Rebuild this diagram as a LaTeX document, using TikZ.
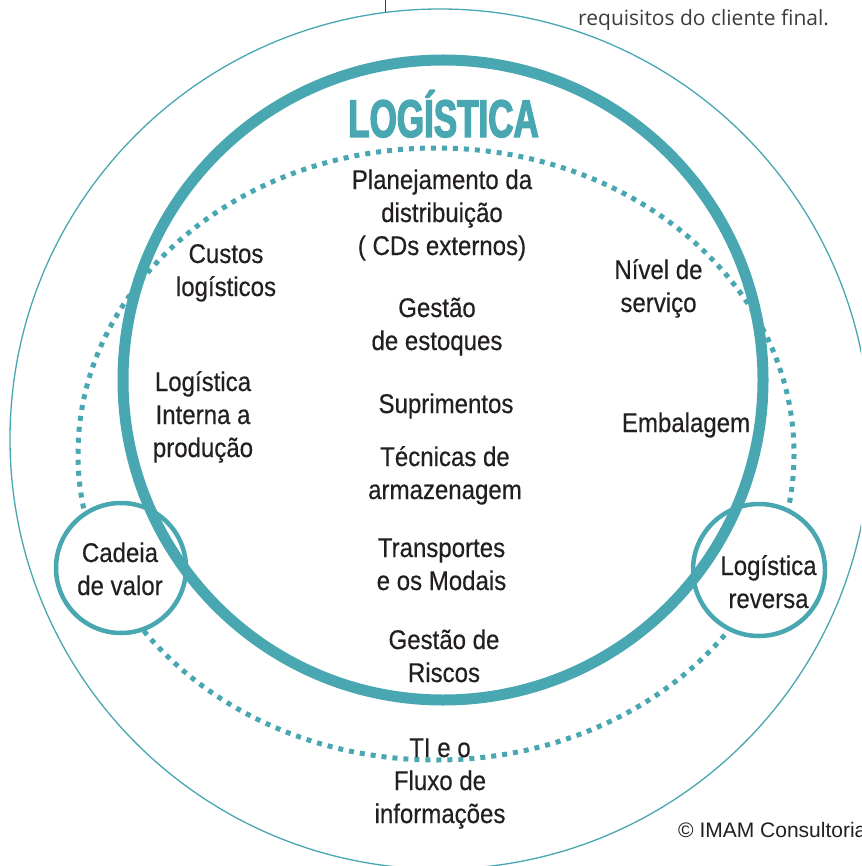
\documentclass[tikz,border=0pt]{standalone}
\usepackage{fontspec}
\setmainfont{Liberation Sans}
\newfontfamily\bodyfont[FakeStretch=0.89,FakeBold=0.4]{Liberation Sans}
\newfontfamily\titlefont[FakeStretch=0.66,FakeBold=2.5]{Liberation Sans Bold}
\newfontfamily\notefont{Open Sans}
\definecolor{teal1}{RGB}{72,167,176}
\definecolor{ink}{RGB}{35,31,32}
\definecolor{notegray}{RGB}{60,60,60}
\begin{document}
\begin{tikzpicture}[x=1pt,y=-1pt,
  lbl/.style={font=\bodyfont\fontsize{27}{33}\selectfont, text=ink, align=center, anchor=base, inner sep=0pt},
  thinring/.style={draw=teal1, line width=1.3pt},
  bigring/.style={draw=teal1, line width=11pt},
  dotring/.style={draw=teal1, line width=5pt, dash pattern=on 5pt off 6pt},
  smallring/.style={draw=teal1, line width=4.5pt, fill=white}]
\path[use as bounding box, clip] (0,0) rectangle (861,866);
\fill[white] (0,0) rectangle (861,866);
% rings
\draw[thinring] (440,439) circle[radius=430];
\draw[dotring] (436,454) ellipse[x radius=358, y radius=306];
\draw[smallring] (121,568) circle[radius=65];
\draw[smallring] (759,570) circle[radius=66];
\draw[bigring] (443,380) circle[radius=320];
% leader line at top
\coordinate (lt) at (385,0);
\coordinate (lb) at (385,12);
\draw[notegray, line width=1pt] (lt) -- (lb);
\node[font=\notefont\fontsize{21}{24}\selectfont, text=notegray, anchor=base west, inner sep=0pt] (req) at (578,26) {requisitos do cliente final.};
% title
\node[font=\titlefont\fontsize{53}{60}\selectfont, text=teal1, anchor=base, inner sep=0pt] (title) at (443.5,137) {LOGÍSTICA};
% labels (anchor = baseline of the last line)
\node[lbl] (plan) at (442,255) {Planejamento da\\distribuição\\( CDs externos)};
\node[lbl] (gest) at (437,350) {Gestão\\de estoques};
\node[lbl] (supr) at (446,413) {Suprimentos};
\node[lbl] (tecn) at (445,499) {Técnicas de\\armazenagem};
\node[lbl] (trans) at (441.5,590) {Transportes\\e os Modais};
\node[lbl] (risc) at (444,682) {Gestão de\\Riscos};
\node[lbl] (cust) at (226,296) {Custos\\logísticos};
\node[lbl] (inter) at (203,457) {Logística\\Interna a\\produção};
\node[lbl] (nivel) at (658.5,312) {Nível de\\serviço};
\node[lbl] (emb) at (686,432) {Embalagem};
\node[lbl] (cadeia) at (120,595) {Cadeia\\de valor};
\node[lbl] (rev) at (768.5,608) {Logística\\reversa};
\node[lbl] (ti) at (440,823) {TI e o\\Fluxo de\\informações};
\node[font=\fontsize{21}{24}\selectfont, text=ink, anchor=base west, inner sep=0pt] (copy) at (678,837) {© IMAM Consultoria};
\end{tikzpicture}
\end{document}
